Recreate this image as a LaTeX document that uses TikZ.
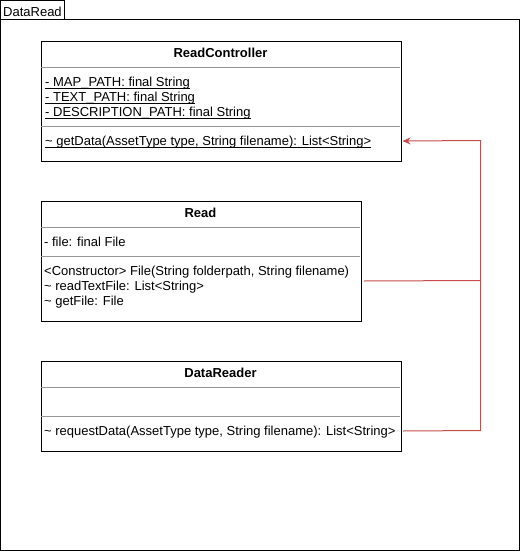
\documentclass[tikz,border=0pt]{standalone}
\usepackage{fontspec}
\setmainfont{Liberation Sans}
\usetikzlibrary{arrows.meta}
\definecolor{connred}{RGB}{200,76,76}
\definecolor{sepgray}{RGB}{150,150,150}
\newcommand{\ulx}[1]{\underline{\smash{#1}}}
\tikzset{
  frame/.style={draw=black,line width=1pt},
  classbox/.style={draw=black,line width=1pt,fill=white,anchor=north west,inner sep=0pt},
  sepline/.style={draw=sepgray,line width=1pt},
  txt/.style={anchor=base west,inner sep=0pt,font=\fontsize{13}{15}\selectfont},
  ttl/.style={anchor=base,inner sep=0pt,font=\fontsize{13}{15}\selectfont\bfseries},
  conn/.style={draw=connred,line width=1pt},
  tip/.style={-{Stealth[length=8pt,width=7pt,inset=2.5pt]}}
}
\begin{document}
\begin{tikzpicture}[x=1pt,y=-1pt]
\useasboundingbox (0,0) rectangle (521,552);
% package frame
\draw[frame] (0.5,19.5) rectangle (519.5,550.5);
\draw[frame] (0.5,19.5) -- (0.5,0.5) -- (64.5,0.5) -- (64.5,19.5);
\node[txt] (pkg) at (3,16.3) {DataRead};

% ReadController
\node[classbox,minimum width=360pt,minimum height=120pt] (rc) at (40.5,40.5) {};
\draw[sepline] (41,67.5) -- (400,67.5);
\draw[sepline] (41,126.5) -- (400,126.5);
\node[ttl] (rct) at (220.5,57.2) {ReadController};
\node[txt] (rca1) at (45,86.5) {\ulx{- MAP\_PATH: final String}};
\node[txt] (rca2) at (45,101.5) {\ulx{- TEXT\_PATH: final String}};
\node[txt] (rca3) at (45,116.3) {\ulx{- DESCRIPTION\_PATH: final String}};
\node[txt] (rcm1) at (45,145.8) {\ulx{\textasciitilde{} getData(AssetType type, String filename): List<String>}};

% Read
\node[classbox,minimum width=320pt,minimum height=120pt] (rd) at (40.5,200.5) {};
\draw[sepline] (41,227.5) -- (360,227.5);
\draw[sepline] (41,256.5) -- (360,256.5);
\node[ttl] (rdt) at (200.5,217) {Read};
\node[txt] (rda1) at (44,246.3) {- file: final File};
\node[txt] (rdm1) at (44,275.6) {<Constructor> File(String folderpath, String filename)};
\node[txt] (rdm2) at (44,290.4) {\textasciitilde{} readTextFile: List<String>};
\node[txt] (rdm3) at (44,305.2) {\textasciitilde{} getFile: File};

% DataReader
\node[classbox,minimum width=360pt,minimum height=90pt] (dr) at (40.5,360.5) {};
\draw[sepline] (41,387.5) -- (400,387.5);
\draw[sepline] (41,416.5) -- (400,416.5);
\node[ttl] (drt) at (220.5,377) {DataReader};
\node[txt] (drm1) at (44,435.2) {\textasciitilde{} requestData(AssetType type, String filename): List<String>};

% connectors
\coordinate (j1) at (480.5,280.5);
\coordinate (j2) at (480.5,430.5);
\coordinate (j3) at (480.5,140.5);
\draw[conn] ([xshift=2.5pt,yshift=-20pt]rd.east) -- (j1);
\draw[conn,tip] ([xshift=1.5pt,yshift=-25pt]dr.east) -- (j2) -- (j3) -- ([xshift=1pt,yshift=-40pt]rc.east);
\end{tikzpicture}
\end{document}
